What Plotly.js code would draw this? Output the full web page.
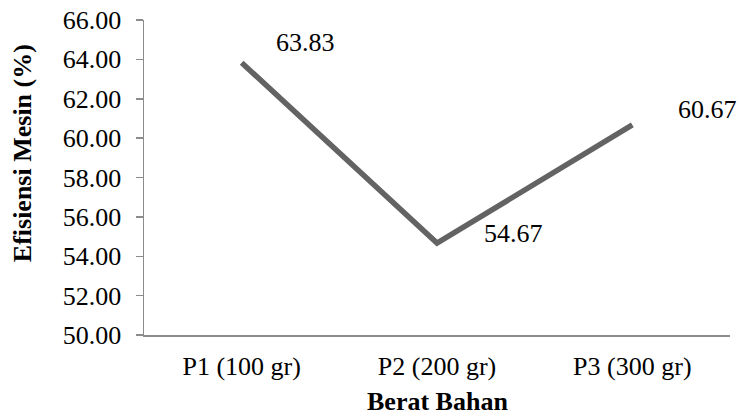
<!DOCTYPE html>
<html>
<head>
<meta charset="utf-8">
<script src="https://cdn.plot.ly/plotly-3.0.1.min.js"></script>
<style>
  html, body { margin: 0; padding: 0; background: #fff; }
  #chart { width: 739px; height: 418px; }
</style>
</head>
<body>
<div id="chart"></div>
<script>
// Machine efficiency per material weight
const categories = ['P1 (100 gr)', 'P2 (200 gr)', 'P3 (300 gr)'];
const efficiency = [63.83, 54.67, 60.67];
const yTicks = [50, 52, 54, 56, 58, 60, 62, 64, 66];

const serif = '"Liberation Serif", "Times New Roman", serif';
const fs = 26;

// label placement relative to each point (pixels)
const labelShift = [[32, 20], [45, 10], [44, 15]];

const trace = {
  x: categories,
  y: efficiency,
  type: 'scatter',
  mode: 'lines',
  line: { color: '#636363', width: 5.5 },
  hoverinfo: 'x+y'
};

const annotations = categories.map((c, i) => ({
  x: c, y: efficiency[i], xref: 'x', yref: 'y',
  text: efficiency[i].toFixed(2),
  showarrow: false, xanchor: 'left', yanchor: 'middle',
  xshift: labelShift[i][0], yshift: labelShift[i][1],
  font: { family: serif, size: fs, color: '#000' }
}));

annotations.push({
  xref: 'paper', yref: 'paper', x: -0.206, y: 0.578,
  text: '<b>Efisiensi Mesin (%)</b>', textangle: -90,
  showarrow: false, xanchor: 'center', yanchor: 'middle',
  font: { family: serif, size: fs, color: '#000' }
});

annotations.push({
  xref: 'paper', yref: 'paper', x: 0.5, y: 0, yshift: -82,
  text: '<b>Berat Bahan</b>',
  showarrow: false, xanchor: 'center', yanchor: 'bottom',
  borderpad: 0,
  font: { family: serif, size: fs, color: '#000' }
});

const layout = {
  width: 739, height: 418,
  margin: { l: 144, r: 9, t: 20, b: 83 },
  paper_bgcolor: '#fff', plot_bgcolor: '#fff',
  showlegend: false,
  font: { family: serif, size: fs, color: '#000' },
  xaxis: {
    type: 'category',
    range: [-0.5, 2.5],
    showline: true, linecolor: '#8c8c8c', linewidth: 1.5,
    ticks: '', showgrid: false, zeroline: false,
    tickfont: { family: serif, size: fs, color: '#000' },
    ticklabelstandoff: 7
  },
  yaxis: {
    range: [50, 66],
    tickvals: yTicks,
    ticktext: yTicks.map(v => v.toFixed(2)),
    showline: true, linecolor: '#8c8c8c', linewidth: 1.5,
    ticks: 'outside', ticklen: 7, tickcolor: '#8c8c8c', tickwidth: 1.5,
    showgrid: false, zeroline: false,
    tickfont: { family: serif, size: fs, color: '#000' },
    ticklabelstandoff: 9
  },
  annotations: annotations
};

Plotly.newPlot('chart', [trace], layout, { staticPlot: true, displayModeBar: false });
</script>
</body>
</html>
